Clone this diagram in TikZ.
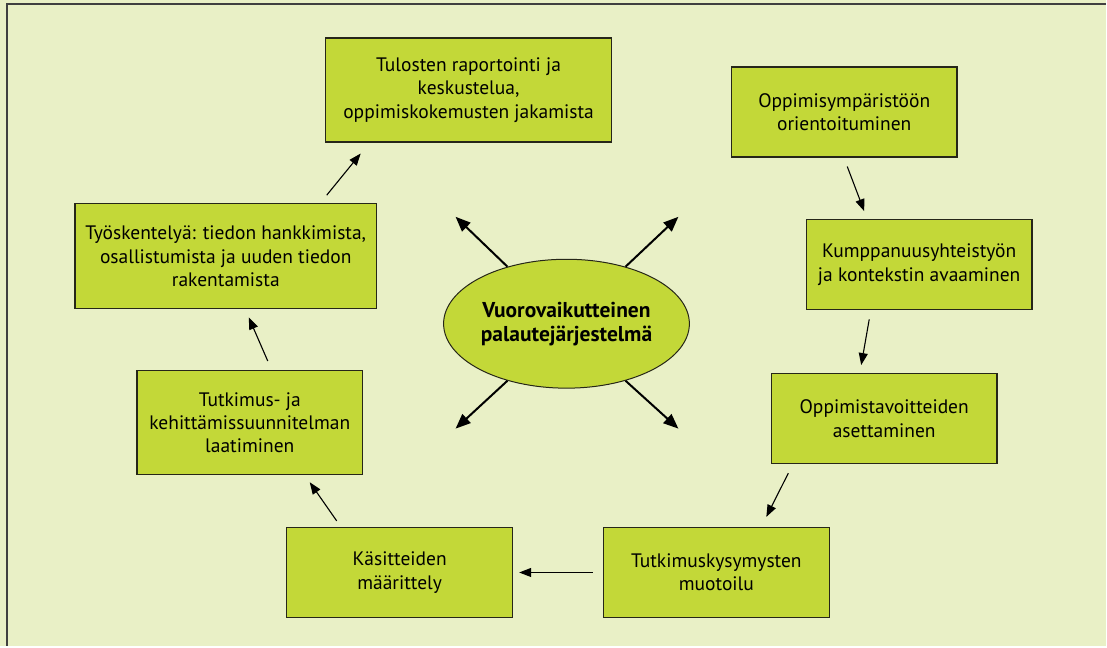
\documentclass[tikz,border=0pt]{standalone}
\usepackage{fontspec}
\setmainfont{PT Sans}
\usetikzlibrary{arrows.meta,calc,shapes.geometric}
\definecolor{bgpale}{HTML}{E9F0C6}
\definecolor{boxgreen}{HTML}{C3D838}
\definecolor{framegray}{HTML}{404040}
\definecolor{edgedark}{HTML}{262618}
\begin{document}
\begin{tikzpicture}[x=1pt,y=-1pt,
  stepbox/.style={draw=edgedark,line width=1.3pt,fill=boxgreen,rectangle,
    align=center,inner sep=0pt,minimum width=226pt,minimum height=90pt,
    font=\fontsize{19.5}{23.3}\selectfont},
  hub/.style={draw=edgedark,line width=1pt,fill=boxgreen,ellipse,
    align=center,inner sep=0pt,minimum width=246pt,minimum height=129pt,
    font=\fontsize{21.5}{24}\selectfont\bfseries},
  arr/.style={line width=1.1pt,-{Triangle[length=12pt,width=9pt]}},
  bigarr/.style={line width=2pt,-{Triangle[length=15pt,width=12pt]}}]
% background and frame
\fill[bgpale] (0,0) rectangle (1107,647);
\draw[framegray,line width=2pt] (1107,4.5) -- (7.5,4.5) -- (7.5,647);
% steps of the cycle
\node[stepbox,minimum width=286pt,minimum height=104pt] (tul) at (469,90)
  {Tulosten raportointi ja\\keskustelua,\\oppimiskokemusten jakamista};
\node[stepbox] (orient) at (845,112) {Oppimisympäristöön\\orientoituminen};
\node[stepbox] (kump) at (920,265) {Kumppanuusyhteistyön\\ja kontekstin avaaminen};
\node[stepbox] (tav) at (885,419) {Oppimistavoitteiden\\asettaminen};
\node[stepbox] (kys) at (717,573) {Tutkimuskysymysten\\muotoilu};
\node[stepbox] (kas) at (400,573) {Käsitteiden\\määrittely};
\node[stepbox,minimum height=104pt] (suun) at (250,423)
  {Tutkimus- ja\\kehittämissuunnitelman\\laatiminen};
\node[stepbox,minimum width=302pt,minimum height=105pt] (tyo) at (226,256.5)
  {Työskentelyä: tiedon hankkimista,\\osallistumista ja uuden tiedon\\rakentamista};
% central feedback system
\node[hub] (hub) at (567,324) {Vuorovaikutteinen\\palautejärjestelmä};
% cycle arrows
\draw[arr] ($(tyo.north)+(101,-8)$) -- ($(tul.south)+(-108,11)$);
\draw[arr] ($(orient.south)+(3,9)$) -- ($(kump.north)+(-55,-8)$);
\draw[arr] ($(kump.south)+(-50,9)$) -- ($(tav.north)+(-23,-8)$);
\draw[arr] ($(tav.south)+(-96,9)$) -- ($(kys.north)+(50,-10)$);
\draw[arr] ($(kys.west)+(-10,0)$) -- ($(kas.east)+(6,0)$);
\draw[arr] ($(kas.north)+(-63,-6)$) -- ($(suun.south)+(60,7)$);
\draw[arr] ($(suun.north)+(18,-9)$) -- ($(tyo.south)+(23,8)$);
% arrows leaving the hub
\coordinate (nw) at (456,217);
\coordinate (ne) at (679,217);
\coordinate (sw) at (456,429);
\coordinate (se) at (679,429);
\draw[bigarr] (hub.136) -- (nw);
\draw[bigarr] (hub.44) -- (ne);
\draw[bigarr] (hub.224) -- (sw);
\draw[bigarr] (hub.316) -- (se);
\end{tikzpicture}
\end{document}
